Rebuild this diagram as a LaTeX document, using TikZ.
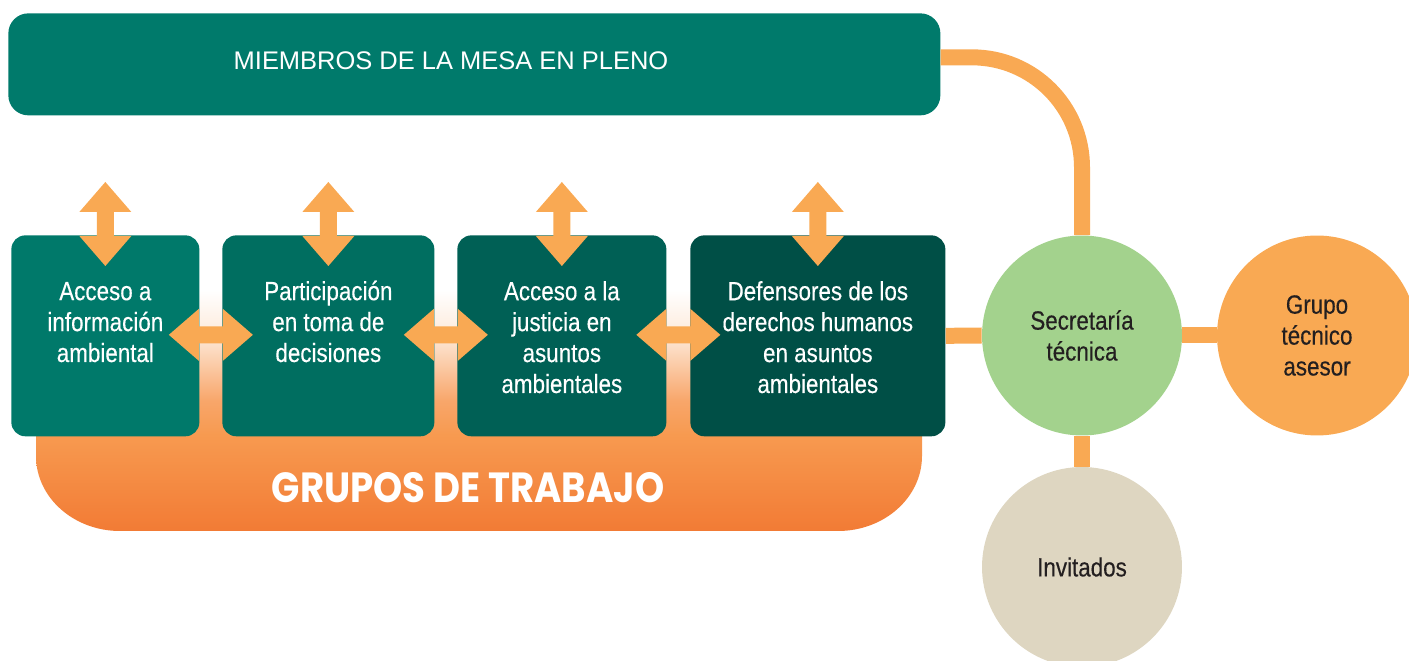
\documentclass[tikz,border=0pt]{standalone}
\usepackage{fontspec}
\setmainfont{Liberation Sans}
\newfontfamily\narrowfont{Liberation Sans}[FakeStretch=0.85, FakeBold=0.3]
\newfontfamily\groupfont{Poppins}[FakeStretch=0.88]
\usetikzlibrary{calc}
\usetikzlibrary{shapes}
\usetikzlibrary{positioning}

\definecolor{mesa}{HTML}{007A6B}
\definecolor{ink}{HTML}{231F20}
\definecolor{grpdark}{HTML}{F27B35}
\definecolor{grpmid}{HTML}{F79A50}
\definecolor{grplight}{HTML}{F8A66A}
\definecolor{grppale}{HTML}{FDEBDC}

\pgfdeclareverticalshading{grupos}{100bp}{color(0bp)=(grpdark); color(25bp)=(grpdark);
  color(45bp)=(grpmid); color(52bp)=(grplight); color(66bp)=(grppale);
  color(75bp)=(white); color(100bp)=(white)}

\begin{document}
\begin{tikzpicture}[
    x=0.02cm, y=-0.02cm,
    box/.style={rectangle, rounded corners=0.28cm, anchor=north west,
    minimum height=4.02cm, inner sep=0pt},
    boxtext/.style={anchor=base, align=center, text=white,
    font=\narrowfont\fontsize{15}{17.6}\selectfont},
    circ/.style={circle, minimum size=4cm, inner sep=0pt, align=center,
    text=ink, font=\narrowfont\fontsize{15}{17.6}\selectfont},
    link/.style={line width=0.32cm, draw=arrowfill},
    every node/.style={inner sep=0pt}
    ]

\newcommand{\px}{0.02cm}
\definecolor{arrowfill}{HTML}{F9A953}
\definecolor{sec}{HTML}{A3D28D}
\definecolor{asesor}{HTML}{F9A953}
\definecolor{invit}{HTML}{DED6C1}

\useasboundingbox (0,0) rectangle (1409,661);

% grupos de trabajo (base)
\shade[shading=grupos] (36,290) -- (36,456)
    arc[start angle=180, end angle=90, x radius=84, y radius=75] -- (838,531)
    arc[start angle=90, end angle=0, x radius=84, y radius=75] -- (922,290) -- cycle;
\node[text=white, font=\groupfont\bfseries\fontsize{24}{28}\selectfont] (grupos)
    at (468,488) {GRUPOS DE TRABAJO};

% mesa en pleno
\node[box, fill=mesa, rounded corners=0.4cm, minimum width=932*\px,
    minimum height=102*\px] (top) at (8,13) {};
\node[text=white, font=\fontsize{14.5}{17}\selectfont] (toptext) at (451,61)
    {MIEMBROS DE LA MESA EN PLENO};

% working groups
\node[box, fill=mesa!99!black, minimum width=188*\px] (b1) at (11,235) {};
\node[box, fill=mesa!90!black, minimum width=212*\px] (b2) at (222,235) {};
\node[box, fill=mesa!79!black, minimum width=209*\px] (b3) at (457,235) {};
\node[box, fill=mesa!65!black, minimum width=255*\px] (b4) at (690,235) {};

% base = last line
\node[boxtext] (t1) at ($(b1.north)+(0,127)$) {Acceso a\\información\\ambiental};
\node[boxtext] (t2) at ($(b2.north)+(0,127)$) {Participación\\en toma de\\decisiones};
\node[boxtext] (t3) at ($(b3.north)+(0,158)$) {Acceso a la\\justicia en\\asuntos\\ambientales};
\node[boxtext] (t4) at ($(b4.north)+(0,158)$)
    {Defensores de los\\derechos humanos\\en asuntos\\ambientales};

\newcommand{\twoway}[2]{
\fill[arrowfill, shift={#1}, rotate=#2] (-42,0) -- (-12,-26) -- (-12,-8.5)
    -- (12,-8.5) -- (12,-26) -- (42,0) -- (12,26) -- (12,8.5) -- (-12,8.5)
    -- (-12,26) -- cycle;}

\twoway{($(b1.north)+(0,-11)$)}{90}
\twoway{($(b2.north)+(0,-11)$)}{90}
\twoway{($(b3.north)+(0,-11)$)}{90}
\twoway{($(b4.north)+(0,-11)$)}{90}

\twoway{($(b1.east)!0.5!(b2.west)+(0,-1)$)}{0}
\twoway{($(b2.east)!0.5!(b3.west)+(0,-1)$)}{0}
\twoway{($(b3.east)!0.5!(b4.west)+(0,-1)$)}{0}

% circles
\node[circ, fill=sec] (sect) at (1082,335.5) {Secretaría\\técnica};
\node[circ, fill=asesor] (grp) at (1317,335.5) {Grupo\\técnico\\asesor};
\node[circ, fill=invit] (inv) at (1082,567) {Invitados};

% links
\draw[link, rounded corners=2.2cm] ($(top.east)+(0,-7)$) -| (sect.north);
\draw[link] (b4.east) -- (sect.west);
\draw[link] (sect.east) -- (grp.west);
\draw[link] (sect.south) -- (inv.north);

\end{tikzpicture}
\end{document}
